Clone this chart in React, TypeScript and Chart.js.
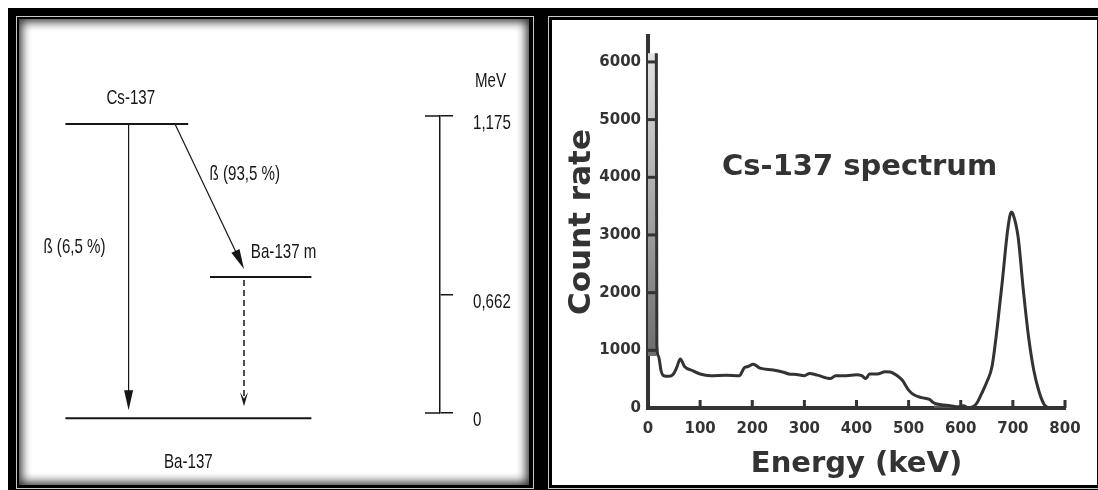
import React, { useEffect, useRef } from 'react';
import { Chart, registerables, LinearScale } from 'chart.js';

// ---------------- Right panel: Cs-137 gamma spectrum ----------------
const spectrumTitle = 'Cs-137 spectrum';
const energyKeV = [16, 17, 20, 25, 30, 40, 48, 55, 62, 70, 85, 100, 120, 150, 175, 185, 192, 202, 215, 240, 260, 270, 285, 300, 310, 325, 350, 360, 380, 400, 410, 418, 425, 440, 455, 465, 478, 488, 500, 510, 525, 540, 548, 560, 580, 595, 605, 615, 625, 632, 640, 650, 660, 670, 680, 690, 697, 700, 710, 720, 730, 740, 750, 760, 768];
const countRate = [6150, 1100, 900, 650, 560, 550, 580, 700, 850, 720, 650, 590, 560, 570, 560, 700, 720, 760, 690, 660, 620, 590, 580, 560, 600, 570, 510, 560, 560, 575, 560, 510, 590, 590, 630, 625, 560, 480, 310, 230, 180, 150, 90, 60, 40, 20, 40, 0, 30, 100, 250, 450, 720, 1400, 2220, 3085, 3400, 3370, 2970, 2050, 1240, 660, 290, 60, 0];
const lowBandKeV = [0, 16];
const lowBandTop = [6150, 6150];
const lowBandFloor = 900;
const patchKeV = [548, 556, 570, 590];
const patchCount = [90, 85, 70, 0];
const xTicksKeV = [0, 100, 200, 300, 400, 500, 600, 700, 800];
const yTicksCount = [0, 1000, 2000, 3000, 4000, 5000, 6000];

// ---------------- Left panel: decay scheme ----------------
const levelNames = ['Cs-137', 'Ba-137 m', 'Ba-137'];
const levelMeV = [1.175, 0.662, 0];
const levelStart = [6.35, 42.5, 6.35];
const levelEnd = [37.05, 67.85, 67.85];
const transFrom = [0, 0, 1];
const transTo = [2, 1, 2];
const transStartX = [22.15, 33.75, 51];
const transEndX = [22.15, 51, 51];
const transLabels = ['ß (6,5 %)', 'ß (93,5 %)', ''];
const transDashed = [false, false, true];
const scaleTicksMeV = [0, 0.662, 1.175];
const scaleUnit = 'MeV';

// schematic (non-linear) placement of energies on the diagram
const BREAKS: Record<string, number[][]> = {
  yE: [[0, 0], [0.662, 0.398], [1.175, 1]],
  yL: [[0, -0.018], [0.662, 0.458], [1.175, 0.973]],
};
function interp(v: number, pts: number[][]) {
  for (let i = 0; i < pts.length - 1; i++) {
    const [v0, f0] = pts[i];
    const [v1, f1] = pts[i + 1];
    if (v <= v1 || i === pts.length - 2) return f0 + ((v - v0) / (v1 - v0)) * (f1 - f0);
  }
  return 0;
}
class PiecewiseScale extends LinearScale {
  static id = 'piecewise';
  static defaults = LinearScale.defaults;
  getPixelForValue(value: number) {
    return this.getPixelForDecimal(interp(value, BREAKS[this.id]));
  }
  getValueForPixel(pixel: number) {
    const d = this.getDecimalForPixel(pixel);
    return interp(d, BREAKS[this.id].map(([a, b]) => [b, a]));
  }
}

Chart.register(...registerables, PiecewiseScale as any);

const INK = '#161616';
const GREY = '#333';
const FAMILY = '"DejaVu Sans", sans-serif';
const fmtMeV = new Intl.NumberFormat('de-DE', { maximumFractionDigits: 3 });

function narrowText(ctx: CanvasRenderingContext2D, text: string, x: number, y: number, align: CanvasTextAlign) {
  ctx.save();
  ctx.translate(x, y);
  ctx.scale(0.72, 1);
  ctx.font = '21px "Liberation Sans", Arial, sans-serif';
  ctx.fillStyle = INK;
  ctx.textAlign = align;
  ctx.textBaseline = 'alphabetic';
  ctx.fillText(text, 0, 0);
  ctx.restore();
}

function arrowHead(ctx: CanvasRenderingContext2D, tx: number, ty: number, ux: number, uy: number, len: number, half: number, notch: number) {
  const bx = tx - ux * len;
  const by = ty - uy * len;
  const nx = -uy;
  const ny = ux;
  ctx.beginPath();
  ctx.moveTo(tx, ty);
  ctx.lineTo(bx + nx * half, by + ny * half);
  ctx.lineTo(tx - ux * len * (1 - notch), ty - uy * len * (1 - notch));
  ctx.lineTo(bx - nx * half, by - ny * half);
  ctx.closePath();
  ctx.fill();
}

const LEVEL_LABEL = [
  { anchor: 0.5, dx: 4, dy: -20, align: 'center' },
  { anchor: 1, dx: 5, dy: -19, align: 'right' },
  { anchor: 0.5, dx: 0, dy: 50, align: 'center' },
];
const TRANS_LABEL: any[] = [
  { align: 'right', dx: -23, dy: -14 },
  { align: 'left', dx: 0, dy: -16 },
  null,
];

const leftDecor = {
  id: 'leftDecor',
  afterDraw(chart: any) {
    const { ctx } = chart;
    const { x, yL, yE } = chart.scales;
    ctx.save();
    ctx.strokeStyle = INK;
    ctx.fillStyle = INK;
    transFrom.forEach((from, i) => {
      const dashed = transDashed[i];
      const sx = x.getPixelForValue(transStartX[i]);
      const sy = yL.getPixelForValue(levelMeV[from]) + (dashed ? 3 : 0);
      const tx = x.getPixelForValue(transEndX[i]);
      const ty = yL.getPixelForValue(levelMeV[transTo[i]]) - (dashed ? 12 : 8);
      const dx = tx - sx;
      const dy = ty - sy;
      const d = Math.hypot(dx, dy);
      const ux = dx / d;
      const uy = dy / d;
      const headLen = dashed ? 14 : 20;
      ctx.lineWidth = dashed ? 1.5 : 1.2;
      ctx.setLineDash(dashed ? [6, 4] : []);
      ctx.beginPath();
      ctx.moveTo(sx, sy);
      ctx.lineTo(tx - ux * headLen * 0.5, ty - uy * headLen * 0.5);
      ctx.stroke();
      ctx.setLineDash([]);
      arrowHead(ctx, tx, ty, ux, uy, headLen, dashed ? 4 : 4.5, dashed ? 0.45 : 0);
      const st = TRANS_LABEL[i];
      if (st && transLabels[i]) {
        narrowText(ctx, transLabels[i], (sx + tx) / 2 + st.dx, (sy + ty) / 2 + st.dy, st.align);
      }
    });
    levelNames.forEach((name, i) => {
      const st = LEVEL_LABEL[i];
      const x0 = x.getPixelForValue(levelStart[i]);
      const x1 = x.getPixelForValue(levelEnd[i]);
      const py = yL.getPixelForValue(levelMeV[i]);
      narrowText(ctx, name, x0 + (x1 - x0) * st.anchor + st.dx, py + st.dy, st.align as CanvasTextAlign);
    });
    // energy scale
    narrowText(ctx, scaleUnit, yE.left + 35, yE.top - 29, 'left');
    ctx.lineWidth = 1.5;
    yE.ticks.forEach((t: any, i: number) => {
      const py = yE.getPixelForValue(t.value);
      narrowText(ctx, fmtMeV.format(t.value), yE.left + 33, py + 13, 'left');
      if (i === 0 || i === yE.ticks.length - 1) {
        ctx.beginPath();
        ctx.moveTo(yE.left - 15, py);
        ctx.lineTo(yE.left, py);
        ctx.stroke();
      }
    });
    ctx.restore();
  },
};

const rightDecor = {
  id: 'rightDecor',
  afterDraw(chart: any) {
    const { ctx, chartArea } = chart;
    const { x, y } = chart.scales;
    ctx.save();
    ctx.strokeStyle = GREY;
    ctx.lineWidth = 3;
    x.ticks.forEach((t: any) => {
      const px = x.getPixelForValue(t.value);
      ctx.beginPath();
      ctx.moveTo(px, chartArea.bottom);
      ctx.lineTo(px, chartArea.bottom - 8);
      ctx.stroke();
    });
    y.ticks.forEach((t: any) => {
      const py = y.getPixelForValue(t.value);
      ctx.beginPath();
      ctx.moveTo(chartArea.left, py);
      ctx.lineTo(chartArea.left + 8, py);
      ctx.stroke();
    });
    ctx.font = 'bold 29px ' + FAMILY;
    ctx.fillStyle = GREY;
    ctx.textAlign = 'center';
    ctx.textBaseline = 'alphabetic';
    ctx.fillText(spectrumTitle, x.getPixelForValue(406), y.getPixelForValue(4040));
    ctx.restore();
  },
};

function leftConfig(): any {
  return {
    type: 'line',
    data: {
      datasets: levelNames.map((name, i) => ({
        label: name,
        data: [
          { x: levelStart[i], y: levelMeV[i] },
          { x: levelEnd[i], y: levelMeV[i] },
        ],
        yAxisID: 'yL',
        borderColor: INK,
        borderWidth: 2,
        pointRadius: 0,
        fill: false,
        clip: false,
      })),
    },
    options: {
      animation: false,
      responsive: false,
      devicePixelRatio: 1,
      layout: { padding: { left: 21, top: 97, right: 0, bottom: 72 } },
      plugins: { legend: { display: false }, tooltip: { enabled: false } },
      scales: {
        x: { type: 'linear', min: 0, max: 100, display: false },
        yL: { type: 'piecewise', min: 0, max: 1.175, display: false },
        yE: {
          type: 'piecewise',
          position: 'right',
          min: 0,
          max: 1.175,
          afterBuildTicks: (s: any) => {
            s.ticks = scaleTicksMeV.map((v) => ({ value: v }));
          },
          afterFit: (s: any) => {
            s.width = 89;
          },
          ticks: { display: false },
          grid: { display: true, drawOnChartArea: false, drawTicks: true, tickLength: 13, color: INK, lineWidth: 1.5 },
          border: { display: true, color: INK, width: 1.5 },
        },
      },
    },
    plugins: [leftDecor],
  };
}

function rightConfig(): any {
  return {
    type: 'line',
    data: {
      datasets: [
        {
          label: 'Count rate',
          data: energyKeV.map((e, i) => ({ x: e, y: countRate[i] })),
          borderColor: GREY,
          borderWidth: 3,
          pointRadius: 0,
          cubicInterpolationMode: 'monotone',
          fill: false,
        },
        {
          label: 'low-energy band',
          data: lowBandKeV.map((e, i) => ({ x: e, y: lowBandTop[i] })),
          borderWidth: 0,
          pointRadius: 0,
          fill: { value: lowBandFloor },
          backgroundColor: (c: any) => {
            const { chart } = c;
            const ys = chart.scales.y;
            if (!chart.chartArea || !ys) return '#999';
            const g = chart.ctx.createLinearGradient(0, ys.getPixelForValue(6150), 0, ys.getPixelForValue(1000));
            g.addColorStop(0, '#e2e2e2');
            g.addColorStop(0.5, '#a8a8a8');
            g.addColorStop(1, '#6e6e6e');
            return g;
          },
        },
        {
          label: 'patch',
          data: patchKeV.map((e, i) => ({ x: e, y: patchCount[i] })),
          borderWidth: 0,
          pointRadius: 0,
          fill: 'origin',
          backgroundColor: 'rgba(110,110,110,0.6)',
        },
      ],
    },
    options: {
      animation: false,
      responsive: false,
      devicePixelRatio: 1,
      layout: { padding: { left: 0, top: 15.5, right: 32, bottom: 0 } },
      plugins: { legend: { display: false }, tooltip: { enabled: false } },
      scales: {
        x: {
          type: 'linear',
          min: 0,
          max: 800,
          afterBuildTicks: (s: any) => {
            s.ticks = xTicksKeV.map((v) => ({ value: v }));
          },
          afterFit: (s: any) => {
            s.height = 77;
          },
          grid: { display: false, drawTicks: false },
          border: { display: true, color: GREY, width: 4 },
          ticks: {
            padding: 12,
            autoSkip: false,
            maxRotation: 0,
            color: GREY,
            font: { family: FAMILY, weight: 'bold', size: 15 },
            callback: (v: any) => String(v),
          },
          title: {
            display: true,
            text: 'Energy (keV)',
            color: GREY,
            font: { family: FAMILY, weight: 'bold', size: 29 },
            padding: { top: 0, bottom: 3 },
          },
        },
        y: {
          type: 'linear',
          min: 0,
          max: 6450,
          afterBuildTicks: (s: any) => {
            s.ticks = yTicksCount.map((v) => ({ value: v }));
          },
          afterFit: (s: any) => {
            s.width = 96;
          },
          grid: { display: false, drawTicks: false },
          border: { display: true, color: GREY, width: 4 },
          ticks: {
            padding: 7,
            color: GREY,
            font: { family: FAMILY, weight: 'bold', size: 15 },
            callback: (v: any) => String(v),
          },
          title: {
            display: true,
            text: 'Count rate',
            color: GREY,
            font: { family: FAMILY, weight: 'bold', size: 31 },
            padding: { top: 11, bottom: 0 },
          },
        },
      },
    },
    plugins: [rightDecor],
  };
}

export default function App() {
  const leftRef = useRef<HTMLCanvasElement | null>(null);
  const rightRef = useRef<HTMLCanvasElement | null>(null);

  useEffect(() => {
    const l = new Chart(leftRef.current as HTMLCanvasElement, leftConfig());
    const r = new Chart(rightRef.current as HTMLCanvasElement, rightConfig());
    return () => {
      l.destroy();
      r.destroy();
    };
  }, []);

  return (
    <div style={{ position: 'fixed', left: 8, top: 8, width: 1090, height: 482, background: '#000', overflow: 'hidden' }}>
      <div
        style={{
          position: 'absolute',
          left: 8,
          top: 8,
          width: 518,
          height: 473,
          boxSizing: 'border-box',
          border: '1px solid #c8c8c8',
          padding: '2px 4px 3px 2px',
          background: '#000',
        }}
      >
        <div style={{ width: 510, height: 466, background: '#fff', boxShadow: 'inset 0 0 10px 3px rgba(0,0,0,0.8)' }}>
          <canvas ref={leftRef} width={510} height={466} style={{ display: 'block', width: 510, height: 466 }} />
        </div>
      </div>
      <div
        style={{
          position: 'absolute',
          left: 540,
          top: 8,
          width: 553,
          height: 473,
          boxSizing: 'border-box',
          border: '1px solid #c8c8c8',
          padding: 3,
          background: '#000',
        }}
      >
        <div style={{ width: 545, height: 465, background: '#fff' }}>
          <canvas ref={rightRef} width={545} height={465} style={{ display: 'block', width: 545, height: 465 }} />
        </div>
      </div>
    </div>
  );
}
